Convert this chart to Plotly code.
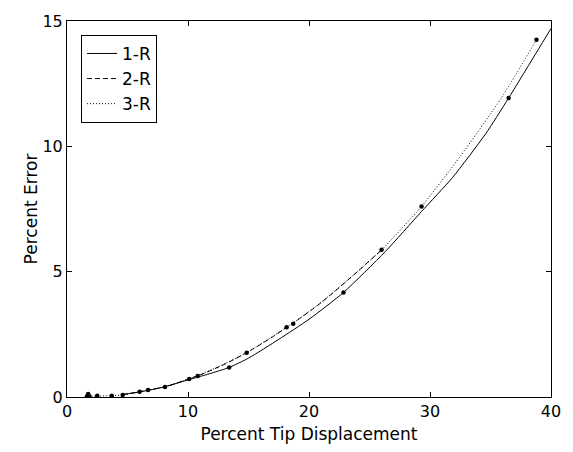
import plotly.graph_objects as go

# Curves: percent error vs percent tip displacement for the three models
x_1r = [4.6, 6.0, 8.0, 10.0, 12.0, 13.4, 15.0, 17.5, 20.0, 22.85, 26.3, 29.3, 31.85, 34.6, 36.5, 40.0]
y_1r = [0.10, 0.20, 0.40, 0.68, 0.96, 1.18, 1.55, 2.30, 3.10, 4.17, 5.80, 7.40, 8.75, 10.5, 11.93, 14.7]

x_2r = [4.6, 6.0, 6.7, 8.1, 10.1, 10.8, 13.0, 14.85, 17.0, 18.15, 18.7, 20.7, 21.9, 24.0, 26.0]
y_2r = [0.10, 0.21, 0.28, 0.40, 0.73, 0.84, 1.30, 1.77, 2.40, 2.78, 2.95, 3.65, 4.12, 5.00, 5.87]

x_3r = [1.75, 2.5, 3.7, 4.6, 6.0, 8.1, 10.1, 12.0, 14.85, 18.15, 20.7, 24.0, 26.0, 29.3, 32.5, 35.9, 38.8]
y_3r = [0.03, 0.04, 0.05, 0.08, 0.21, 0.41, 0.73, 1.10, 1.77, 2.78, 3.66, 5.00, 5.87, 7.60, 9.60, 11.93, 14.25]

# Measured data points
x_pts = [1.65, 1.85, 1.75, 2.5, 3.7, 4.6, 6.0, 6.7, 8.1, 10.1, 10.8, 13.4, 14.85, 18.15, 18.7, 22.85, 26.0, 29.3, 36.5, 38.8]
y_pts = [0.03, 0.03, 0.12, 0.05, 0.05, 0.08, 0.21, 0.28, 0.40, 0.72, 0.84, 1.18, 1.77, 2.78, 2.92, 4.17, 5.87, 7.60, 11.93, 14.25]

FONT = "DejaVu Sans"
TICK_SIZE = 16
TEXT_SIZE = 17

fig = go.Figure()
fig.add_trace(go.Scatter(x=x_1r, y=y_1r, mode="lines", name="1-R",
                         line=dict(color="black", width=1, shape="spline", smoothing=0.6)))
fig.add_trace(go.Scatter(x=x_2r, y=y_2r, mode="lines", name="2-R",
                         line=dict(color="black", width=1, dash="5px,3px",
                                   shape="spline", smoothing=0.6)))
fig.add_trace(go.Scatter(x=x_3r, y=y_3r, mode="lines", name="3-R",
                         line=dict(color="black", width=1, dash="1px,2px",
                                   shape="spline", smoothing=0.6)))
fig.add_trace(go.Scatter(x=x_pts, y=y_pts, mode="markers", showlegend=False,
                         marker=dict(color="black", size=4.5, symbol="circle")))

axis_common = dict(showline=True, linecolor="black", linewidth=1, mirror="ticks",
                   ticks="inside", ticklen=5, tickcolor="black", tickwidth=1,
                   showgrid=False, zeroline=False,
                   tickfont=dict(family=FONT, size=TICK_SIZE, color="black"))

fig.update_xaxes(range=[0, 40], dtick=10, tick0=0,
                 title=dict(text="Percent Tip Displacement", standoff=7,
                            font=dict(family=FONT, size=TEXT_SIZE, color="black")),
                 **axis_common)
fig.update_yaxes(range=[0, 15], dtick=5, tick0=0,
                 title=dict(text="Percent Error", standoff=0,
                            font=dict(family=FONT, size=TEXT_SIZE, color="black")),
                 **axis_common)

fig.update_layout(
    width=573, height=452,
    margin=dict(l=67, r=21, t=17, b=54),
    paper_bgcolor="white", plot_bgcolor="white",
    font=dict(family=FONT, size=TEXT_SIZE, color="black"),
    legend=dict(x=0.029, y=0.963, xanchor="left", yanchor="top",
                bordercolor="black", borderwidth=1, bgcolor="white",
                font=dict(family=FONT, size=TEXT_SIZE, color="black")),
)

fig.write_html("out.html")
